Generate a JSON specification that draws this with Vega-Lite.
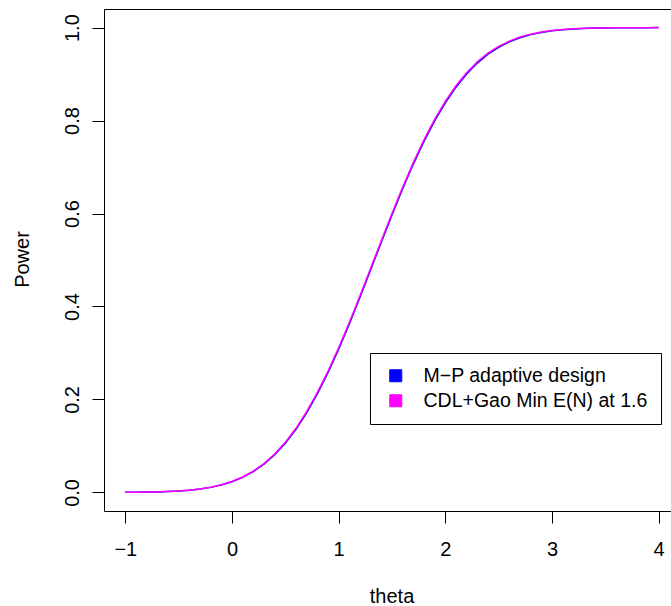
{
  "$schema": "https://vega.github.io/schema/vega-lite/v6.json",
  "autosize": {"type": "none"},
  "padding": {"left": 104, "top": 9, "right": 0, "bottom": 95},
  "width": 567,
  "height": 502,
  "background": "white",
  "config": {
    "view": {"stroke": null},
    "font": "Liberation Sans",
    "axis": {
      "grid": false,
      "domainColor": "black",
      "domainWidth": 1,
      "tickColor": "black",
      "tickWidth": 1,
      "tickSize": 12,
      "labelFont": "Liberation Sans",
      "labelFontSize": 20,
      "labelColor": "black",
      "titleFont": "Liberation Sans",
      "titleFontSize": 20,
      "titleFontWeight": "normal",
      "titleColor": "black"
    },
    "legend": {
      "strokeColor": "black",
      "strokeWidth": 1,
      "fillColor": "white",
      "cornerRadius": 0,
      "padding": 13,
      "symbolOffset": 3,
      "labelOffset": 18,
      "rowPadding": 4,
      "symbolSize": 144,
      "symbolType": "square",
      "symbolStrokeColor": "black",
      "symbolStrokeWidth": 1,
      "symbolOpacity": 1,
      "labelFont": "Liberation Sans",
      "labelFontSize": 19.5,
      "labelColor": "black",
      "labelLimit": 400
    }
  },
  "data": {
    "values": [
      {"theta": -1.0, "power": 0.0003, "design": "CDL+Gao Min E(N) at 1.6"},
      {"theta": -0.9, "power": 0.0004, "design": "CDL+Gao Min E(N) at 1.6"},
      {"theta": -0.8, "power": 0.0007, "design": "CDL+Gao Min E(N) at 1.6"},
      {"theta": -0.7, "power": 0.0012, "design": "CDL+Gao Min E(N) at 1.6"},
      {"theta": -0.6, "power": 0.0020, "design": "CDL+Gao Min E(N) at 1.6"},
      {"theta": -0.5, "power": 0.0032, "design": "CDL+Gao Min E(N) at 1.6"},
      {"theta": -0.4, "power": 0.0049, "design": "CDL+Gao Min E(N) at 1.6"},
      {"theta": -0.3, "power": 0.0075, "design": "CDL+Gao Min E(N) at 1.6"},
      {"theta": -0.2, "power": 0.0112, "design": "CDL+Gao Min E(N) at 1.6"},
      {"theta": -0.1, "power": 0.0164, "design": "CDL+Gao Min E(N) at 1.6"},
      {"theta": 0.0, "power": 0.0236, "design": "CDL+Gao Min E(N) at 1.6"},
      {"theta": 0.1, "power": 0.0332, "design": "CDL+Gao Min E(N) at 1.6"},
      {"theta": 0.2, "power": 0.0458, "design": "CDL+Gao Min E(N) at 1.6"},
      {"theta": 0.3, "power": 0.0621, "design": "CDL+Gao Min E(N) at 1.6"},
      {"theta": 0.4, "power": 0.0826, "design": "CDL+Gao Min E(N) at 1.6"},
      {"theta": 0.5, "power": 0.1077, "design": "CDL+Gao Min E(N) at 1.6"},
      {"theta": 0.6, "power": 0.1379, "design": "CDL+Gao Min E(N) at 1.6"},
      {"theta": 0.7, "power": 0.1736, "design": "CDL+Gao Min E(N) at 1.6"},
      {"theta": 0.8, "power": 0.2145, "design": "CDL+Gao Min E(N) at 1.6"},
      {"theta": 0.9, "power": 0.2605, "design": "CDL+Gao Min E(N) at 1.6"},
      {"theta": 1.0, "power": 0.3111, "design": "CDL+Gao Min E(N) at 1.6"},
      {"theta": 1.1, "power": 0.3657, "design": "CDL+Gao Min E(N) at 1.6"},
      {"theta": 1.2, "power": 0.4231, "design": "CDL+Gao Min E(N) at 1.6"},
      {"theta": 1.3, "power": 0.4821, "design": "CDL+Gao Min E(N) at 1.6"},
      {"theta": 1.4, "power": 0.5415, "design": "CDL+Gao Min E(N) at 1.6"},
      {"theta": 1.5, "power": 0.6001, "design": "CDL+Gao Min E(N) at 1.6"},
      {"theta": 1.6, "power": 0.6565, "design": "CDL+Gao Min E(N) at 1.6"},
      {"theta": 1.7, "power": 0.7095, "design": "CDL+Gao Min E(N) at 1.6"},
      {"theta": 1.8, "power": 0.7585, "design": "CDL+Gao Min E(N) at 1.6"},
      {"theta": 1.9, "power": 0.8026, "design": "CDL+Gao Min E(N) at 1.6"},
      {"theta": 2.0, "power": 0.8413, "design": "CDL+Gao Min E(N) at 1.6"},
      {"theta": 2.1, "power": 0.8748, "design": "CDL+Gao Min E(N) at 1.6"},
      {"theta": 2.2, "power": 0.9030, "design": "CDL+Gao Min E(N) at 1.6"},
      {"theta": 2.3, "power": 0.9262, "design": "CDL+Gao Min E(N) at 1.6"},
      {"theta": 2.4, "power": 0.9449, "design": "CDL+Gao Min E(N) at 1.6"},
      {"theta": 2.5, "power": 0.9596, "design": "CDL+Gao Min E(N) at 1.6"},
      {"theta": 2.6, "power": 0.9710, "design": "CDL+Gao Min E(N) at 1.6"},
      {"theta": 2.7, "power": 0.9796, "design": "CDL+Gao Min E(N) at 1.6"},
      {"theta": 2.8, "power": 0.9859, "design": "CDL+Gao Min E(N) at 1.6"},
      {"theta": 2.9, "power": 0.9904, "design": "CDL+Gao Min E(N) at 1.6"},
      {"theta": 3.0, "power": 0.9937, "design": "CDL+Gao Min E(N) at 1.6"},
      {"theta": 3.1, "power": 0.9959, "design": "CDL+Gao Min E(N) at 1.6"},
      {"theta": 3.2, "power": 0.9974, "design": "CDL+Gao Min E(N) at 1.6"},
      {"theta": 3.3, "power": 0.9984, "design": "CDL+Gao Min E(N) at 1.6"},
      {"theta": 3.4, "power": 0.9990, "design": "CDL+Gao Min E(N) at 1.6"},
      {"theta": 3.5, "power": 0.9994, "design": "CDL+Gao Min E(N) at 1.6"},
      {"theta": 3.6, "power": 0.9996, "design": "CDL+Gao Min E(N) at 1.6"},
      {"theta": 3.7, "power": 0.9998, "design": "CDL+Gao Min E(N) at 1.6"},
      {"theta": 3.8, "power": 0.9999, "design": "CDL+Gao Min E(N) at 1.6"},
      {"theta": 3.9, "power": 0.9999, "design": "CDL+Gao Min E(N) at 1.6"},
      {"theta": 4.0, "power": 1.0000, "design": "CDL+Gao Min E(N) at 1.6"},
      {"theta": -1.0, "power": 0.0002, "design": "M−P adaptive design"},
      {"theta": -0.9, "power": 0.0004, "design": "M−P adaptive design"},
      {"theta": -0.8, "power": 0.0007, "design": "M−P adaptive design"},
      {"theta": -0.7, "power": 0.0011, "design": "M−P adaptive design"},
      {"theta": -0.6, "power": 0.0019, "design": "M−P adaptive design"},
      {"theta": -0.5, "power": 0.0030, "design": "M−P adaptive design"},
      {"theta": -0.4, "power": 0.0047, "design": "M−P adaptive design"},
      {"theta": -0.3, "power": 0.0072, "design": "M−P adaptive design"},
      {"theta": -0.2, "power": 0.0108, "design": "M−P adaptive design"},
      {"theta": -0.1, "power": 0.0159, "design": "M−P adaptive design"},
      {"theta": 0.0, "power": 0.0229, "design": "M−P adaptive design"},
      {"theta": 0.1, "power": 0.0323, "design": "M−P adaptive design"},
      {"theta": 0.2, "power": 0.0447, "design": "M−P adaptive design"},
      {"theta": 0.3, "power": 0.0607, "design": "M−P adaptive design"},
      {"theta": 0.4, "power": 0.0809, "design": "M−P adaptive design"},
      {"theta": 0.5, "power": 0.1057, "design": "M−P adaptive design"},
      {"theta": 0.6, "power": 0.1356, "design": "M−P adaptive design"},
      {"theta": 0.7, "power": 0.1710, "design": "M−P adaptive design"},
      {"theta": 0.8, "power": 0.2117, "design": "M−P adaptive design"},
      {"theta": 0.9, "power": 0.2575, "design": "M−P adaptive design"},
      {"theta": 1.0, "power": 0.3080, "design": "M−P adaptive design"},
      {"theta": 1.1, "power": 0.3625, "design": "M−P adaptive design"},
      {"theta": 1.2, "power": 0.4199, "design": "M−P adaptive design"},
      {"theta": 1.3, "power": 0.4789, "design": "M−P adaptive design"},
      {"theta": 1.4, "power": 0.5384, "design": "M−P adaptive design"},
      {"theta": 1.5, "power": 0.5970, "design": "M−P adaptive design"},
      {"theta": 1.6, "power": 0.6534, "design": "M−P adaptive design"},
      {"theta": 1.7, "power": 0.7064, "design": "M−P adaptive design"},
      {"theta": 1.8, "power": 0.7553, "design": "M−P adaptive design"},
      {"theta": 1.9, "power": 0.7994, "design": "M−P adaptive design"},
      {"theta": 2.0, "power": 0.8381, "design": "M−P adaptive design"},
      {"theta": 2.1, "power": 0.8718, "design": "M−P adaptive design"},
      {"theta": 2.2, "power": 0.9002, "design": "M−P adaptive design"},
      {"theta": 2.3, "power": 0.9237, "design": "M−P adaptive design"},
      {"theta": 2.4, "power": 0.9427, "design": "M−P adaptive design"},
      {"theta": 2.5, "power": 0.9577, "design": "M−P adaptive design"},
      {"theta": 2.6, "power": 0.9694, "design": "M−P adaptive design"},
      {"theta": 2.7, "power": 0.9783, "design": "M−P adaptive design"},
      {"theta": 2.8, "power": 0.9849, "design": "M−P adaptive design"},
      {"theta": 2.9, "power": 0.9896, "design": "M−P adaptive design"},
      {"theta": 3.0, "power": 0.9931, "design": "M−P adaptive design"},
      {"theta": 3.1, "power": 0.9955, "design": "M−P adaptive design"},
      {"theta": 3.2, "power": 0.9971, "design": "M−P adaptive design"},
      {"theta": 3.3, "power": 0.9982, "design": "M−P adaptive design"},
      {"theta": 3.4, "power": 0.9989, "design": "M−P adaptive design"},
      {"theta": 3.5, "power": 0.9993, "design": "M−P adaptive design"},
      {"theta": 3.6, "power": 0.9996, "design": "M−P adaptive design"},
      {"theta": 3.7, "power": 0.9997, "design": "M−P adaptive design"},
      {"theta": 3.8, "power": 0.9998, "design": "M−P adaptive design"},
      {"theta": 3.9, "power": 0.9999, "design": "M−P adaptive design"},
      {"theta": 4.0, "power": 1.0000, "design": "M−P adaptive design"}
    ]
  },
  "layer": [
    {
      "transform": [{"filter": "datum.design == 'M−P adaptive design'"}],
      "mark": {"type": "line", "strokeWidth": 1.5, "clip": true},
      "encoding": {
        "x": {
          "field": "theta",
          "type": "quantitative",
          "scale": {"domain": [-1.2, 4.116], "nice": false, "zero": false},
          "axis": {
            "orient": "bottom",
            "values": [-1, 0, 1, 2, 3, 4],
            "format": "d",
            "labelBaseline": "alphabetic",
            "labelPadding": 32,
            "labelFlush": false,
            "labelOverlap": false,
            "title": "theta",
            "titleX": 287.5,
            "titleY": 91,
            "titleAlign": "center",
            "titleBaseline": "alphabetic"
          }
        },
        "y": {
          "field": "power",
          "type": "quantitative",
          "scale": {"domain": [-0.04, 1.04], "nice": false, "zero": false},
          "axis": {
            "orient": "left",
            "values": [0, 0.2, 0.4, 0.6, 0.8, 1.0],
            "format": ".1f",
            "labelAngle": -90,
            "labelAlign": "center",
            "labelBaseline": "alphabetic",
            "labelPadding": 14,
            "labelFlush": false,
            "labelOverlap": false,
            "title": "Power",
            "titleAngle": -90,
            "titleX": -76,
            "titleY": 250,
            "titleAlign": "center",
            "titleBaseline": "alphabetic"
          }
        },
        "color": {
          "field": "design",
          "type": "nominal",
          "scale": {"domain": ["M−P adaptive design", "CDL+Gao Min E(N) at 1.6"], "range": ["#0000ff", "#ff00ff"]},
          "legend": {
            "title": null,
            "orient": "none",
            "legendX": 266,
            "legendY": 344,
            "symbolStrokeColor": "black",
            "symbolStrokeWidth": 1,
            "symbolOpacity": 1,
            "encode": {
              "symbols": {
                "update": {
                  "stroke": {"value": "black"},
                  "strokeWidth": {"value": 1}
                }
              }
            }
          }
        }
      }
    },
    {
      "transform": [{"filter": "datum.design == 'CDL+Gao Min E(N) at 1.6'"}],
      "mark": {"type": "line", "strokeWidth": 1.5, "clip": true},
      "encoding": {
        "x": {
          "field": "theta",
          "type": "quantitative",
          "axis": {"orient": "top", "labels": false, "ticks": false, "title": null, "domain": true}
        },
        "y": {"field": "power", "type": "quantitative"},
        "color": {"field": "design", "type": "nominal"}
      }
    },
    {
      "transform": [{"filter": "false"}],
      "mark": {"type": "square", "filled": true, "opacity": 1, "stroke": "black", "strokeWidth": 1},
      "encoding": {
        "color": {"field": "design", "type": "nominal"}
      }
    }
  ]
}
